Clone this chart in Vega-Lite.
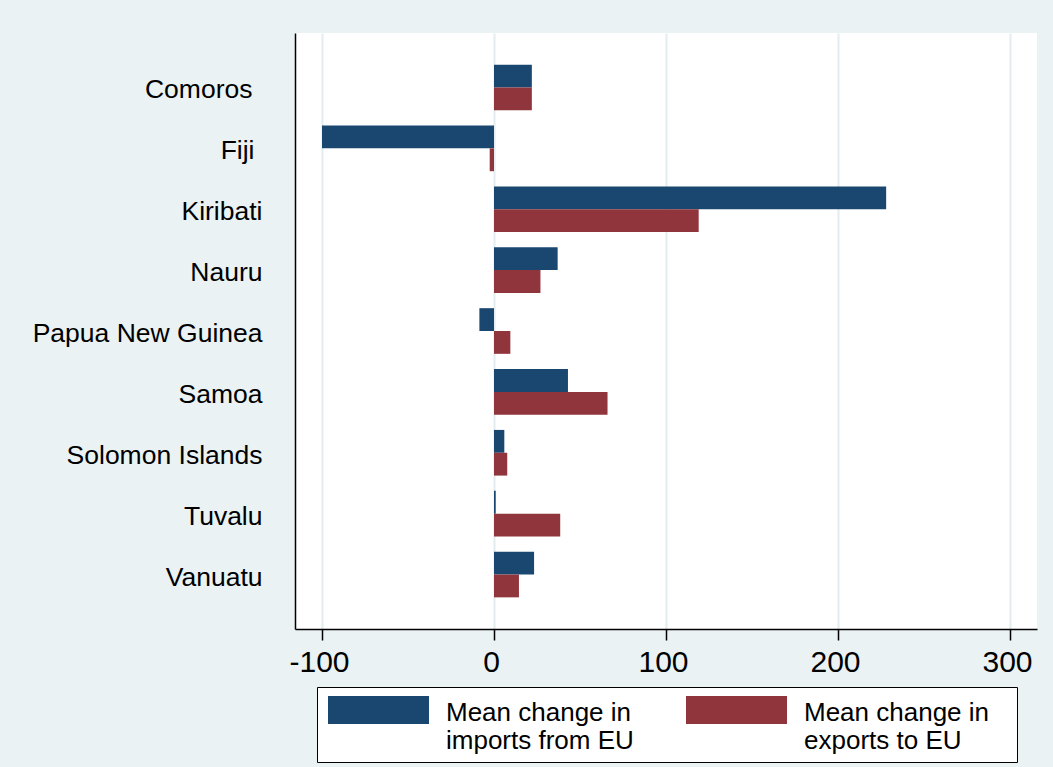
{
  "$schema": "https://vega.github.io/schema/vega-lite/v6.json",
  "width": 742,
  "height": 596,
  "autosize": {"type": "none"},
  "padding": {"left": 295, "top": 33, "right": 16, "bottom": 138},
  "background": "#EAF2F3",
  "config": {
    "font": "Liberation Sans",
    "view": {"fill": "white", "stroke": null}
  },
  "data": {
    "values": [
      {"country": "Comoros", "series": "Mean change in imports from EU", "value": 22},
      {"country": "Comoros", "series": "Mean change in exports to EU", "value": 22},
      {"country": "Fiji", "series": "Mean change in imports from EU", "value": -100},
      {"country": "Fiji", "series": "Mean change in exports to EU", "value": -2.5},
      {"country": "Kiribati", "series": "Mean change in imports from EU", "value": 228},
      {"country": "Kiribati", "series": "Mean change in exports to EU", "value": 119},
      {"country": "Nauru", "series": "Mean change in imports from EU", "value": 37},
      {"country": "Nauru", "series": "Mean change in exports to EU", "value": 27},
      {"country": "Papua New Guinea", "series": "Mean change in imports from EU", "value": -8.5},
      {"country": "Papua New Guinea", "series": "Mean change in exports to EU", "value": 9.5},
      {"country": "Samoa", "series": "Mean change in imports from EU", "value": 43},
      {"country": "Samoa", "series": "Mean change in exports to EU", "value": 66},
      {"country": "Solomon Islands", "series": "Mean change in imports from EU", "value": 6},
      {"country": "Solomon Islands", "series": "Mean change in exports to EU", "value": 7.7},
      {"country": "Tuvalu", "series": "Mean change in imports from EU", "value": 1},
      {"country": "Tuvalu", "series": "Mean change in exports to EU", "value": 38.5},
      {"country": "Vanuatu", "series": "Mean change in imports from EU", "value": 23.3},
      {"country": "Vanuatu", "series": "Mean change in exports to EU", "value": 14.5}
    ]
  },
  "mark": {"type": "bar"},
  "encoding": {
    "y": {
      "field": "country",
      "type": "nominal",
      "sort": null,
      "scale": {"paddingInner": 0.25, "paddingOuter": 0.52},
      "axis": {
        "title": null,
        "ticks": false,
        "domainColor": "black",
        "domainWidth": 1.5,
        "labelFontSize": 26.5,
        "labelColor": "black",
        "labelPadding": {"expr": "datum.value === 'Comoros' ? 43 : datum.value === 'Fiji' ? 41 : 33"},
        "labelOffset": 3,
        "labelLimit": 300,
        "grid": false
      }
    },
    "yOffset": {
      "field": "series",
      "type": "nominal",
      "sort": ["Mean change in imports from EU", "Mean change in exports to EU"],
      "scale": {"paddingInner": 0, "paddingOuter": 0}
    },
    "x": {
      "field": "value",
      "type": "quantitative",
      "scale": {"domain": [-115.7, 315.7], "nice": false, "zero": false},
      "axis": {
        "title": null,
        "values": [-100, 0, 100, 200, 300],
        "labelExpr": "replace(datum.label, '\u2212', '-')",
        "grid": true,
        "gridColor": "#E3ECEF",
        "gridWidth": 2,
        "domainColor": "black",
        "domainWidth": 1.5,
        "tickColor": "black",
        "tickWidth": 1.5,
        "tickSize": 11,
        "labelFontSize": 30,
        "labelColor": "black",
        "labelPadding": 7,
        "labelOffset": -3,
        "labelFlush": false
      }
    },
    "color": {
      "field": "series",
      "type": "nominal",
      "scale": {
        "domain": ["Mean change in imports from EU", "Mean change in exports to EU"],
        "range": ["#1A476F", "#90353B"]
      },
      "legend": {
        "title": null,
        "orient": "none",
        "legendX": 22,
        "legendY": 654,
        "direction": "horizontal",
        "columns": 2,
        "padding": 8,
        "fillColor": "white",
        "strokeColor": "black",
        "symbolType": "M0,-1H7.214V1H0Z",
        "symbolSize": 784,
        "symbolStrokeWidth": 0,
        "symbolOpacity": 1,
        "labelFontSize": 26,
        "labelLineHeight": 28,
        "labelBaseline": "alphabetic",
        "labelColor": "black",
        "labelLimit": 400,
        "columnPadding": 49,
        "labelExpr": "datum.label == 'Mean change in imports from EU' ? ['Mean change in', 'imports from EU'] : ['Mean change in\u2800', 'exports to EU']",
        "encode": {
          "symbols": {"update": {"x": {"value": 3}, "y": {"value": 15}}},
          "labels": {"update": {"x": {"value": 121}, "y": {"value": 26}}}
        }
      }
    }
  }
}
